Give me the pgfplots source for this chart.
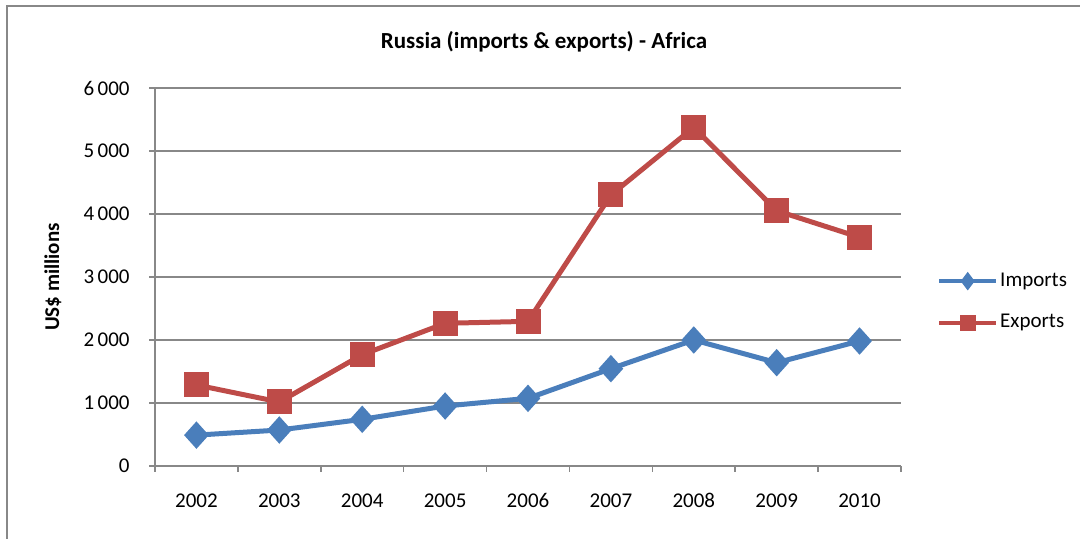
\documentclass[border=0pt]{standalone}
\usepackage{fontspec}
\setmainfont{Carlito}
\usepackage{pgfplots}
\pgfplotsset{compat=1.18}

\definecolor{impblue}{HTML}{4A7EBB}
\definecolor{expred}{HTML}{BE4B48}
\definecolor{gridgray}{HTML}{888888}

\begin{document}
\begin{tikzpicture}[x=0.5pt,y=0.5pt]
  \fontsize{10.5}{12.6}\selectfont
  % page = 1080 x 539 px, 1px = 0.5pt
  \path[use as bounding box] (0,0) rectangle (1080,539);
  \draw[gridgray, line width=0.75pt] (7,0) -- (7,533) -- (1080,533);
  \node[font=\fontsize{11.5}{13.8}\selectfont\bfseries] at (544,497) {Russia (imports \& exports) - Africa};

  \begin{axis}[
    at={(77.5pt,36.5pt)}, anchor=south west,
    scale only axis,
    width=373pt, height=189pt,
    xmin=-0.5, xmax=8.5,
    ymin=0, ymax=6000,
    xtick={0,...,8},
    xticklabels={2002,2003,2004,2005,2006,2007,2008,2009,2010},
    minor xtick={-0.5,0.5,...,8.5},
    major x tick style={draw=none},
    ytick={0,1000,...,6000},
    yticklabels={0,1\,000,2\,000,3\,000,4\,000,5\,000,6\,000},
    tick align=outside,
    major tick length=3pt, minor tick length=3pt,
    tick style={gridgray, line width=0.75pt},
    axis x line*=bottom, axis y line*=left,
    axis line style={gridgray, line width=0.75pt, -},
    ymajorgrids=true,
    grid style={gridgray, line width=0.75pt},
    tick label style={font=\fontsize{10.5}{12.6}\selectfont},
    /pgf/number format/assume math mode=true,
    xticklabel style={yshift=-7pt},
    yticklabel style={xshift=-6pt},
    ylabel={US\$ millions},
    ylabel style={font=\fontsize{10.5}{12.6}\selectfont\bfseries, at={(axis description cs:0,0.5)}, anchor=center, yshift=51pt},
    legend style={at={(axis description cs:1.048,0.434)}, anchor=west, draw=none, fill=none,
      inner sep=0pt, row sep=10.5pt, font=\fontsize{10.5}{12.6}\selectfont,
      nodes={inner sep=1pt}},
    legend cell align=left,
    legend image code/.code={\draw[mark repeat=2,mark phase=2,#1] plot coordinates {(0pt,0pt)(14.25pt,0pt)(28.5pt,0pt)};},
  ]
    \addplot[impblue, line width=2.5pt, mark=diamond*, mark size=5pt,
      mark options={solid, xscale=1.2}, forget plot] coordinates {
      (0,490) (1,571) (2,741) (3,952) (4,1074) (5,1545) (6,2000) (7,1640) (8,1984)
    };
    \addplot[expred, line width=2.5pt, mark=square*, mark size=5pt,
      mark options={solid}, forget plot] coordinates {
      (0,1286) (1,1016) (2,1767) (3,2265) (4,2296) (5,4302) (6,5376) (7,4052) (8,3630)
    };
    \addlegendimage{impblue, line width=2pt, mark=diamond*, mark size=3pt, mark options={solid}}
    \addlegendentry{Imports}
    \addlegendimage{expred, line width=2pt, mark=square*, mark size=3pt, mark options={solid}}
    \addlegendentry{Exports}
  \end{axis}
\end{tikzpicture}
\end{document}
